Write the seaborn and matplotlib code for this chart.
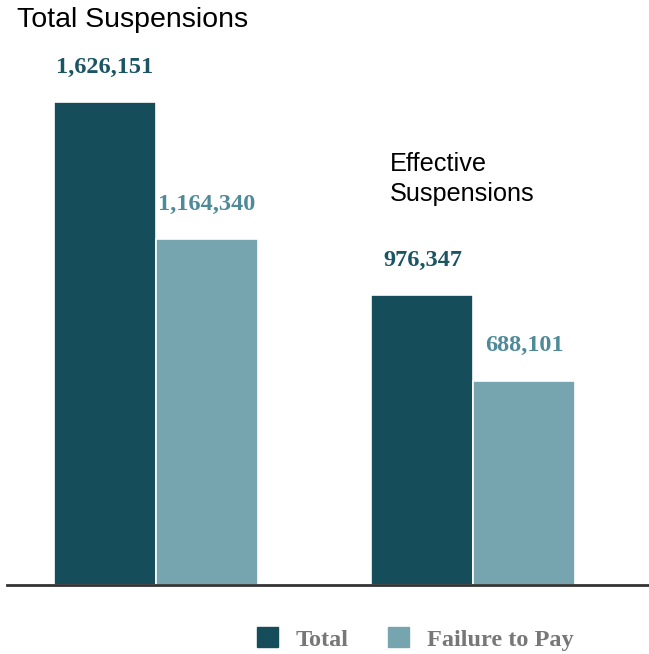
import pandas as pd
import matplotlib.pyplot as plt
import seaborn as sns
from matplotlib.patches import Patch

# Data
groups = ["Total Suspensions", "Effective Suspensions"]
series = ["Total", "Failure to Pay"]
total_vals = [1626151, 976347]
ftp_vals = [1164340, 688101]

df = pd.DataFrame({
    "group": groups * 2,
    "series": [series[0]] * 2 + [series[1]] * 2,
    "value": total_vals + ftp_vals,
})

dark = "#164d5a"
light = "#76a5b0"
label_colors = {"Total": "#1b5462", "Failure to Pay": "#4f8a98"}

sns.set_style("white")
fig = plt.figure(figsize=(6.49, 6.54), dpi=100)
ax = fig.add_axes([7 / 649, 69 / 654, 642 / 649, 585 / 654])

sns.barplot(data=df, x="group", y="value", hue="series", order=groups,
            hue_order=series, palette=[dark, light], width=0.643,
            saturation=1, edgecolor="white", linewidth=1.2, legend=False, ax=ax)

ax.set_ylim(0, 1626151 * 585 / 483)
ax.set_xlim(-0.469, 1.553)
ax.set_xlabel("")
ax.set_ylabel("")
ax.set_xticks([])
ax.set_yticks([])
for s in ["top", "right", "left"]:
    ax.spines[s].set_visible(False)
ax.spines["bottom"].set_color("#333333")
ax.spines["bottom"].set_linewidth(2)

# Value labels above bars
for cont, name in zip(ax.containers, series):
    for bar in cont:
        h = bar.get_height()
        ax.annotate(f"{int(h):,}", (bar.get_x() + bar.get_width() / 2, h),
                    xytext=(0, 25), textcoords="offset points",
                    ha="center", va="center", fontsize=17.5,
                    fontweight="bold", family="Liberation Serif",
                    color=label_colors[name])

# Group titles
fig.text(17 / 649, 1 - 20 / 654, "Total Suspensions", ha="left", va="center",
         fontsize=20.5, family="Liberation Sans", color="black")
fig.text(390 / 649, 1 - 179 / 654, "Effective\nSuspensions", ha="left",
         va="center", fontsize=18.2, family="Liberation Sans", color="black",
         linespacing=1.27)

# Legend
handles = [Patch(facecolor=dark, edgecolor=dark), Patch(facecolor=light, edgecolor=light)]
fig.legend(handles, series, loc="center", bbox_to_anchor=(415 / 649, 1 - 639 / 654),
           ncol=2, frameon=False, handlelength=0.87, handleheight=0.9,
           handletextpad=0.74, columnspacing=1.6,
           prop={"family": "Liberation Serif", "weight": "bold", "size": 17.5},
           labelcolor="#777777")

fig.savefig("out.png", dpi=100)
